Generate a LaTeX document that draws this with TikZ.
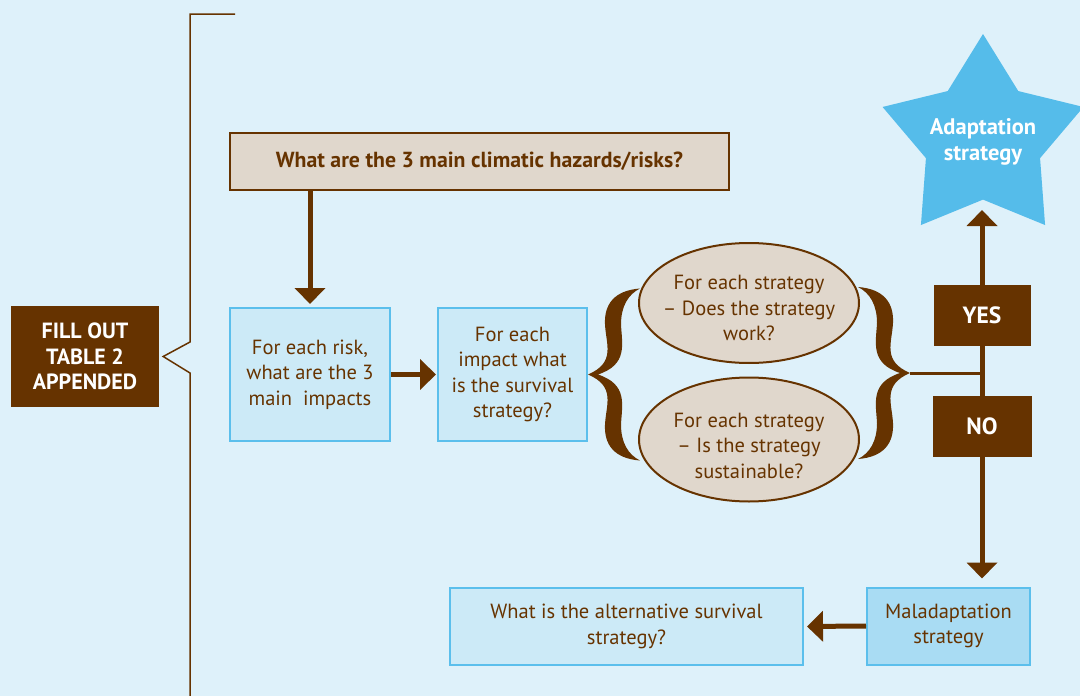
\documentclass[tikz,border=0pt]{standalone}
\usepackage{fontspec}
\setmainfont{PT Sans}
\usetikzlibrary{arrows.meta,shapes.geometric}
\definecolor{bg}{HTML}{DEF1FA}
\definecolor{brn}{HTML}{663300}
\definecolor{tanc}{HTML}{E0D7CC}
\definecolor{lb}{HTML}{CCEAF7}
\definecolor{lbd}{HTML}{A9DCF3}
\definecolor{bb}{HTML}{5BBFEC}
\definecolor{starc}{HTML}{55BCEA}
\tikzset{
  txt/.style={text=brn, font=\fontsize{20.5}{25.5}\selectfont, align=center, inner sep=0pt},
  bluebox/.style={txt, draw=bb, line width=2pt, fill=lb},
  tanbox/.style={txt, draw=brn, line width=2pt, fill=tanc},
  darkbox/.style={fill=brn, text=white, align=center, inner sep=0pt, font=\bfseries\fontsize{22}{25.5}\selectfont},
  arr/.style={draw=brn, line width=5pt, -{Triangle[length=16pt,width=30pt]}},
  calbrace/.pic={
    \fill[brn] (52,-86) .. controls (26,-84) and (16,-70) .. (17,-50)
      .. controls (18,-30) and (28,-12) .. (0,0)
      .. controls (28,12) and (18,30) .. (17,50)
      .. controls (16,70) and (26,84) .. (52,86)
      .. controls (40,80) and (33,68) .. (33,50)
      .. controls (34,30) and (40,10) .. (10,0)
      .. controls (40,-10) and (34,-30) .. (33,-50)
      .. controls (33,-68) and (40,-80) .. (52,-86) -- cycle;
  }
}
\begin{document}
\begin{tikzpicture}[x=1pt,y=-1pt]
\useasboundingbox (0,0) rectangle (1080,696);
\fill[bg] (0,0) rectangle (1080,696);

% left panel
\node[darkbox, minimum width=148pt, minimum height=101pt] (fill) at (85,356.5) {FILL OUT\\TABLE 2\\APPENDED};
\coordinate (notch) at ([xshift=4pt]fill.east);
\coordinate (btop) at (235,14);
\coordinate (bbot) at (190,700);
\draw[brn, line width=1.5pt] (btop) -- (190,14) -- (190,342) -- (notch) -- (190,373) -- (bbot);

% top box
\node[tanbox, minimum width=499pt, minimum height=57pt, font=\bfseries\fontsize{21.8}{24}\selectfont] (top) at (479.5,161.5) {What are the 3 main climatic hazards/risks?};

% row boxes
\node[bluebox, minimum width=160pt, minimum height=133pt] (box1) at (310,374.5) {For each risk,\\what are the 3\\main~ impacts};
\node[bluebox, minimum width=149pt, minimum height=133pt] (box2) at (512.5,374.5) {For each\\impact what\\is the survival\\strategy?};

\draw[arr, shorten >=3pt] (top.south -| box1.north) -- (box1.north);
\draw[arr, shorten >=1pt] (box1.east) -- (box2.west);

% ellipses
\node[tanbox, ellipse, minimum width=220pt, minimum height=120pt,
  label={[txt, yshift=-5pt]center:{For each strategy\\– Does the strategy\\work?}}] (e1) at (749,303) {};
\node[tanbox, ellipse, minimum width=220pt, minimum height=124pt,
  label={[txt, yshift=-6pt]center:{For each strategy\\– Is the strategy\\sustainable?}}] (e2) at (749,439.5) {};

% braces
\pic at (box2.east) {calbrace};
\coordinate (rb) at (910,373);
\pic[xscale=-1] at (rb) {calbrace};

% decision line
\coordinate (junc) at (982,373);
\coordinate (startip) at (982,210);
\draw[brn, line width=3pt] (rb) -- (junc);

\node[darkbox, minimum width=97pt, minimum height=61pt, font=\bfseries\fontsize{23.5}{25}\selectfont] (yes) at (982,315.5) {YES};
\node[darkbox, minimum width=99pt, minimum height=61pt, font=\bfseries\fontsize{23.5}{25}\selectfont] (no) at (982,426.5) {NO};
\draw[brn, line width=5pt] (yes.south) -- (no.north);

% star
\coordinate (sc) at (983,139.6);
\fill[starc] (sc) +(-90:105.6) -- +(-54:60) -- +(-18:105.6) -- +(18:60) -- +(54:105.6) -- +(90:60)
  -- +(126:105.6) -- +(162:60) -- +(198:105.6) -- +(234:60) -- cycle;
\node[txt, text=white, font=\bfseries\fontsize{22.5}{26}\selectfont] (star) at (983,142) {Adaptation\\strategy};
\draw[arr] (yes.north) -- (startip);

% bottom row
\node[txt, draw=bb, line width=2pt, fill=lbd, minimum width=163pt, minimum height=77pt] (mal) at (948.5,626) {Maladaptation\\strategy};
\node[bluebox, minimum width=353pt, minimum height=77pt] (alt) at (626.5,626.5) {What is the alternative survival\\strategy?};
\draw[arr, shorten >=8pt] (no.south) -- (no.south |- mal.north);
\draw[arr, shorten >=3pt] (mal.west) -- (alt.east);
\end{tikzpicture}
\end{document}
